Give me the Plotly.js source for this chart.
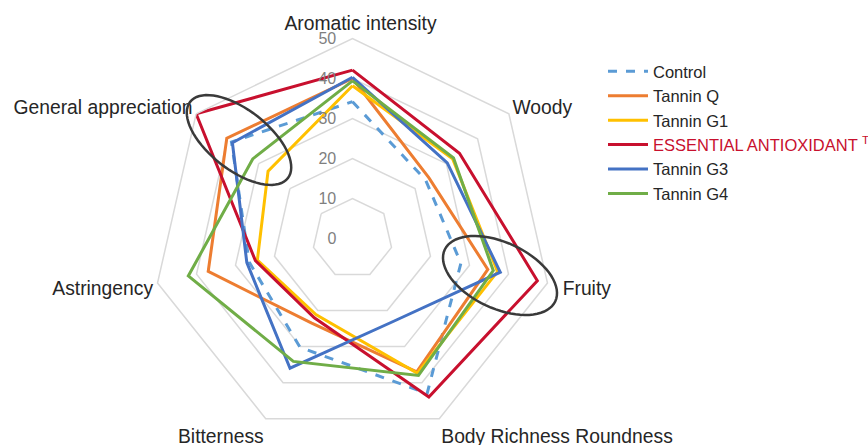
<!DOCTYPE html>
<html>
<head>
<meta charset="utf-8">
<script src="https://cdn.plot.ly/plotly-3.0.1.min.js"></script>
<style>html,body{margin:0;padding:0;background:#fff;}#chart{width:868px;height:445px;}</style>
</head>
<body>
<div id="chart"></div>
<script>
const categories = ["Aromatic intensity", "Woody", "Fruity", "Body Richness Roundness", "Bitterness", "Astringency", "General appreciation"];
const seriesNames = ["Control", "Tannin Q", "Tannin G1", "ESSENTIAL ANTIOXIDANT", "Tannin G3", "Tannin G4"];
const control    = [34.2, 23.4, 27.8, 43.0, 30.2, 26.5, 38.7];
const tanninQ    = [40.0, 24.4, 34.7, 37.0, 23.5, 37.0, 40.2];
const tanninG1   = [38.2, 32.0, 37.2, 37.4, 21.1, 24.4, 27.0];
const essential  = [42.1, 34.2, 47.4, 44.0, 22.0, 24.9, 50.0];
const tanninG3   = [40.3, 30.3, 37.9, 23.1, 36.0, 27.1, 38.4];
const tanninG4   = [39.4, 32.3, 36.1, 38.0, 34.1, 42.1, 31.9];
const radialTicks = [0, 10, 20, 30, 40, 50];

const W = 868, H = 445;
const seriesValues = [control, tanninQ, tanninG1, essential, tanninG3, tanninG4];
const colors = ["#5b9bd5", "#ed7d31", "#ffc000", "#c8102e", "#4472c4", "#70ad47"];
const dashes = ["dash", "solid", "solid", "solid", "solid", "solid"];
const labelNames = seriesNames.map((n, i) => i === 3 ? '<span style="color:#c8102e">' + n + ' <sup>TM</sup></span>' : n);
// small label nudges (non-breaking spaces) to mimic the reference spacing
const NB = "\u00a0";
const padLead = [3, 0, 2, 0, 0, 0, 0];
const angularText = categories.map((c, i) => NB.repeat(padLead[i]) + c);
const radialText = radialTicks.map(v => String(v) + NB.repeat(3));

const close = a => a.concat([a[0]]);
const traces = seriesValues.map((vals, i) => ({
  type: "scatterpolar",
  mode: "lines",
  r: close(vals),
  theta: close(categories),
  name: labelNames[i],
  line: {color: colors[i], width: 3, dash: dashes[i]},
  hoverinfo: "skip"
}));

// ellipse outline path in paper coords from pixel geometry
function ellipsePath(cx, cy, a, b, deg) {
  const t = deg * Math.PI / 180, pts = [];
  for (let k = 0; k <= 72; k++) {
    const u = 2 * Math.PI * k / 72;
    const x = cx + a * Math.cos(u) * Math.cos(t) - b * Math.sin(u) * Math.sin(t);
    const y = cy + a * Math.cos(u) * Math.sin(t) + b * Math.sin(u) * Math.cos(t);
    pts.push((k ? "L" : "M") + (x / W).toFixed(5) + "," + (1 - y / H).toFixed(5));
  }
  return pts.join(" ") + " Z";
}

const layout = {
  width: W, height: H,
  margin: {l: 0, r: 0, t: 0, b: 0, autoexpand: false},
  paper_bgcolor: "#fff",
  font: {family: "Liberation Sans, Arial, sans-serif", color: "#262626", size: 19},
  showlegend: true,
  legend: {x: 603 / W, y: 1 - 54 / H, xanchor: "left", yanchor: "top", itemwidth: 40,
           font: {size: 16.5, color: "#262626"}, bgcolor: "rgba(0,0,0,0)", tracegroupgap: 0},
  polar: {
    domain: {x: [152.5 / W, 552.5 / W], y: [1 - 438.5 / H, 1 - 38.5 / H]},
    gridshape: "linear",
    bgcolor: "#fff",
    radialaxis: {
      range: [0, 50], tickvals: radialTicks, ticktext: radialText,
      angle: 90, tickangle: 90, side: "counterclockwise", showline: false, ticks: "",
      gridcolor: "#d9d9d9", gridwidth: 1.5,
      tickfont: {size: 16, color: "#7f7f7f"}
    },
    angularaxis: {
      rotation: 90, direction: "clockwise",
      tickmode: "array", tickvals: categories, ticktext: angularText,
      showgrid: false, showline: true, linecolor: "#d9d9d9", linewidth: 1.5,
      ticks: "", tickfont: {size: 19.3, color: "#262626"}
    }
  },
  shapes: [
    {type: "path", xref: "paper", yref: "paper", path: ellipsePath(239, 140, 62, 30, 38), line: {color: "#3a3a3a", width: 2.5}},
    {type: "path", xref: "paper", yref: "paper", path: ellipsePath(500, 275.5, 61, 33, 25), line: {color: "#3a3a3a", width: 2.5}}
  ]
};

Plotly.newPlot("chart", traces, layout, {staticPlot: true});
</script>
</body>
</html>
